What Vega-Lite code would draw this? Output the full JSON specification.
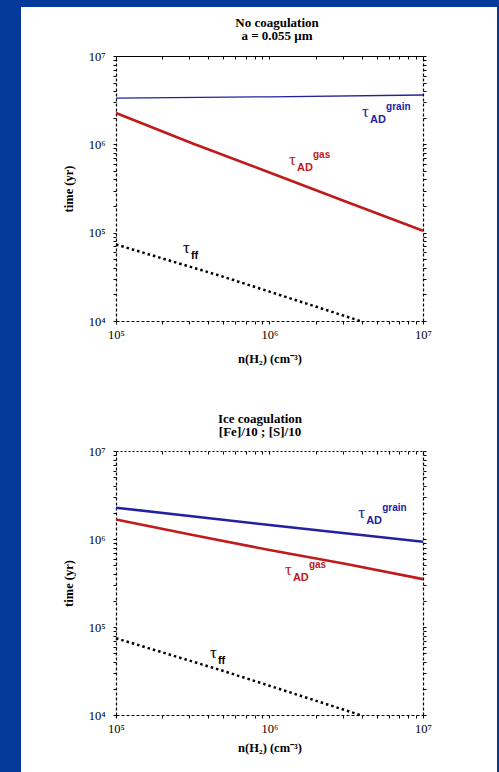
{
  "$schema": "https://vega.github.io/schema/vega-lite/v6.json",
  "background": "#063a9a",
  "padding": {"left": 21, "top": 7, "right": 2, "bottom": 0},
  "spacing": 0,
  "config": {
    "view": {"fill": "white", "stroke": null},
    "font": "Liberation Serif",
    "axis": {"domainColor": "black", "tickColor": "black", "labelColor": "black", "titleColor": "black", "labelFont": "Liberation Serif", "titleFont": "Liberation Serif", "labelFontSize": 12.5, "titleFontSize": 12.5, "titleFontWeight": "bold", "grid": false, "labelOverlap": false, "labelFlush": false, "domainWidth": 1.2, "tickWidth": 1}
  },
  "datasets": {
    "lines": [
      {"panel": "top", "series": "grain", "n": 100000, "t": 3330000},
      {"panel": "top", "series": "grain", "n": 1000000, "t": 3450000},
      {"panel": "top", "series": "grain", "n": 10000000, "t": 3620000},
      {"panel": "top", "series": "gas", "n": 100000, "t": 2260000},
      {"panel": "top", "series": "gas", "n": 316000, "t": 1020000},
      {"panel": "top", "series": "gas", "n": 1000000, "t": 479000},
      {"panel": "top", "series": "gas", "n": 3160000, "t": 224000},
      {"panel": "top", "series": "gas", "n": 10000000, "t": 105000},
      {"panel": "top", "series": "ff", "n": 100000, "t": 73500},
      {"panel": "top", "series": "ff", "n": 477000, "t": 32500},
      {"panel": "top", "series": "ff", "n": 1000000, "t": 21500},
      {"panel": "top", "series": "ff", "n": 3900000, "t": 10000},
      {"panel": "bottom", "series": "grain", "n": 100000, "t": 2270000},
      {"panel": "bottom", "series": "grain", "n": 1000000, "t": 1440000},
      {"panel": "bottom", "series": "grain", "n": 10000000, "t": 930000},
      {"panel": "bottom", "series": "gas", "n": 100000, "t": 1670000},
      {"panel": "bottom", "series": "gas", "n": 316000, "t": 1110000},
      {"panel": "bottom", "series": "gas", "n": 1000000, "t": 750000},
      {"panel": "bottom", "series": "gas", "n": 3160000, "t": 519000},
      {"panel": "bottom", "series": "gas", "n": 10000000, "t": 350000},
      {"panel": "bottom", "series": "ff", "n": 100000, "t": 74500},
      {"panel": "bottom", "series": "ff", "n": 477000, "t": 32500},
      {"panel": "bottom", "series": "ff", "n": 1000000, "t": 21500},
      {"panel": "bottom", "series": "ff", "n": 3900000, "t": 10000}
    ],
    "labels": [
      {"panel": "top", "series": "grain", "n": 4010000, "t": 2350000, "sub": "AD", "sup": "grain"},
      {"panel": "top", "series": "gas", "n": 1340000, "t": 668000, "sub": "AD", "sup": "gas"},
      {"panel": "top", "series": "ff", "n": 273000, "t": 67100, "sub": "ff", "sup": ""},
      {"panel": "bottom", "series": "grain", "n": 3780000, "t": 1960000, "sub": "AD", "sup": "grain"},
      {"panel": "bottom", "series": "gas", "n": 1260000, "t": 445000, "sub": "AD", "sup": "gas"},
      {"panel": "bottom", "series": "ff", "n": 409000, "t": 50200, "sub": "ff", "sup": ""}
    ]
  },
  "vconcat": [
    {
      "width": 476,
      "height": 383,
      "title": {"text": ["No coagulation", "a = 0.055 μm"], "offset": -36, "dx": 18, "fontSize": 13, "font": "Liberation Serif", "fontWeight": "bold", "anchor": "middle", "frame": "group", "lineHeight": 13.5, "color": "black"},
      "resolve": {"axis": {"x": "independent", "y": "independent"}},
      "layer": [
        {
          "data": {"name": "lines"},
          "transform": [{"filter": "datum.panel == 'top' && datum.series == 'grain'"}],
          "mark": {"type": "line", "color": "#2222a0", "strokeWidth": 1.3, "clip": true},
          "encoding": {
            "x": {"field": "n", "type": "quantitative", "scale": {"type": "log", "domain": [100000, 10000000], "range": [95, 402], "nice": false},
              "axis": {"orient": "bottom", "offset": -69, "values": [100000, 200000, 300000, 400000, 500000, 600000, 700000, 800000, 900000, 1000000, 2000000, 3000000, 4000000, 5000000, 6000000, 7000000, 8000000, 9000000, 10000000],
                "labelExpr": "abs(log(datum.value)/LN10 - round(log(datum.value)/LN10)) < 0.001 ? '10' + substring('⁰¹²³⁴⁵⁶⁷⁸⁹', round(log(datum.value)/LN10), round(log(datum.value)/LN10) + 1) : ''",
                "tickSize": 3, "labelPadding": 4, "domainDash": [3, 2], "title": "n(H₂)  (cm⁻³)", "titlePadding": 12}},
            "y": {"field": "t", "type": "quantitative", "scale": {"type": "log", "domain": [10000, 10000000], "range": [314, 49], "nice": false},
              "axis": {"orient": "left", "offset": -95, "values": [10000, 20000, 30000, 40000, 50000, 60000, 70000, 80000, 90000, 100000, 200000, 300000, 400000, 500000, 600000, 700000, 800000, 900000, 1000000, 2000000, 3000000, 4000000, 5000000, 6000000, 7000000, 8000000, 9000000, 10000000],
                "labelExpr": "abs(log(datum.value)/LN10 - round(log(datum.value)/LN10)) < 0.001 ? '10' + substring('⁰¹²³⁴⁵⁶⁷⁸⁹', round(log(datum.value)/LN10), round(log(datum.value)/LN10) + 1) : ''",
                "tickSize": 3, "labelPadding": 8, "domainDash": [3, 2], "title": "time  (yr)", "titlePadding": 13}}
          }
        },
        {
          "data": {"name": "lines"},
          "transform": [{"filter": "datum.panel == 'top' && datum.series == 'gas'"}],
          "mark": {"type": "line", "color": "#c01a1a", "strokeWidth": 2.6, "clip": true},
          "encoding": {
            "x": {"field": "n", "type": "quantitative", "scale": {"type": "log", "domain": [100000, 10000000], "range": [95, 402], "nice": false},
              "axis": {"orient": "top", "offset": -49, "values": [100000, 200000, 300000, 400000, 500000, 600000, 700000, 800000, 900000, 1000000, 2000000, 3000000, 4000000, 5000000, 6000000, 7000000, 8000000, 9000000, 10000000], "labels": false, "tickSize": -3, "title": null}},
            "y": {"field": "t", "type": "quantitative", "scale": {"type": "log", "domain": [10000, 10000000], "range": [314, 49], "nice": false},
              "axis": {"orient": "right", "offset": -74, "values": [10000, 20000, 30000, 40000, 50000, 60000, 70000, 80000, 90000, 100000, 200000, 300000, 400000, 500000, 600000, 700000, 800000, 900000, 1000000, 2000000, 3000000, 4000000, 5000000, 6000000, 7000000, 8000000, 9000000, 10000000], "labels": false, "tickSize": 3, "domainDash": [3, 2], "title": null}}
          }
        },
        {
          "data": {"name": "lines"},
          "transform": [{"filter": "datum.panel == 'top' && datum.series == 'ff'"}],
          "mark": {"type": "line", "color": "black", "strokeWidth": 2.5, "strokeDash": [2.5, 3], "clip": true},
          "encoding": {
            "x": {"field": "n", "type": "quantitative", "scale": {"type": "log", "domain": [100000, 10000000], "range": [95, 402], "nice": false}, "axis": null},
            "y": {"field": "t", "type": "quantitative", "scale": {"type": "log", "domain": [10000, 10000000], "range": [314, 49], "nice": false}, "axis": null}
          }
        },
        {
          "data": {"name": "labels"},
          "transform": [{"filter": "datum.panel == 'top'"}],
          "mark": {"type": "text", "text": "τ", "align": "left", "baseline": "middle", "fontSize": 17, "font": "Liberation Serif"},
          "encoding": {
            "x": {"field": "n", "type": "quantitative", "scale": {"type": "log", "domain": [100000, 10000000], "range": [95, 402], "nice": false}, "axis": null},
            "y": {"field": "t", "type": "quantitative", "scale": {"type": "log", "domain": [10000, 10000000], "range": [314, 49], "nice": false}, "axis": null},
            "color": {"field": "series", "type": "nominal", "scale": {"domain": ["grain", "gas", "ff"], "range": ["#2222a0", "#c01a1a", "black"]}, "legend": null}
          }
        },
        {
          "data": {"name": "labels"},
          "transform": [{"filter": "datum.panel == 'top'"}],
          "mark": {"type": "text", "align": "left", "baseline": "middle", "dx": 8, "dy": 8, "fontSize": 11, "fontWeight": "bold", "font": "Liberation Sans"},
          "encoding": {
            "x": {"field": "n", "type": "quantitative", "scale": {"type": "log", "domain": [100000, 10000000], "range": [95, 402], "nice": false}, "axis": null},
            "y": {"field": "t", "type": "quantitative", "scale": {"type": "log", "domain": [10000, 10000000], "range": [314, 49], "nice": false}, "axis": null},
            "text": {"field": "sub"},
            "color": {"field": "series", "type": "nominal", "scale": {"domain": ["grain", "gas", "ff"], "range": ["#2222a0", "#c01a1a", "black"]}, "legend": null}
          }
        },
        {
          "data": {"name": "labels"},
          "transform": [{"filter": "datum.panel == 'top'"}],
          "mark": {"type": "text", "align": "left", "baseline": "middle", "dx": 24, "dy": -5, "fontSize": 10, "fontWeight": "bold", "font": "Liberation Sans"},
          "encoding": {
            "x": {"field": "n", "type": "quantitative", "scale": {"type": "log", "domain": [100000, 10000000], "range": [95, 402], "nice": false}, "axis": null},
            "y": {"field": "t", "type": "quantitative", "scale": {"type": "log", "domain": [10000, 10000000], "range": [314, 49], "nice": false}, "axis": null},
            "text": {"field": "sup"},
            "color": {"field": "series", "type": "nominal", "scale": {"domain": ["grain", "gas", "ff"], "range": ["#2222a0", "#c01a1a", "black"]}, "legend": null}
          }
        }
      ]
    },
    {
      "width": 476,
      "height": 382,
      "title": {"text": ["Ice coagulation", "[Fe]/10 ; [S]/10"], "offset": -49, "dx": 1, "fontSize": 13, "font": "Liberation Serif", "fontWeight": "bold", "anchor": "middle", "frame": "group", "lineHeight": 13.5, "color": "black"},
      "resolve": {"axis": {"x": "independent", "y": "independent"}},
      "layer": [
        {
          "data": {"name": "lines"},
          "transform": [{"filter": "datum.panel == 'bottom' && datum.series == 'grain'"}],
          "mark": {"type": "line", "color": "#2222a0", "strokeWidth": 2.6, "clip": true},
          "encoding": {
            "x": {"field": "n", "type": "quantitative", "scale": {"type": "log", "domain": [100000, 10000000], "range": [95, 402], "nice": false},
              "axis": {"orient": "bottom", "offset": -57, "values": [100000, 200000, 300000, 400000, 500000, 600000, 700000, 800000, 900000, 1000000, 2000000, 3000000, 4000000, 5000000, 6000000, 7000000, 8000000, 9000000, 10000000],
                "labelExpr": "abs(log(datum.value)/LN10 - round(log(datum.value)/LN10)) < 0.001 ? '10' + substring('⁰¹²³⁴⁵⁶⁷⁸⁹', round(log(datum.value)/LN10), round(log(datum.value)/LN10) + 1) : ''",
                "tickSize": 3, "labelPadding": 4, "domainDash": [3, 2], "title": "n(H₂)  (cm⁻³)", "titlePadding": 7}},
            "y": {"field": "t", "type": "quantitative", "scale": {"type": "log", "domain": [10000, 10000000], "range": [325, 61], "nice": false},
              "axis": {"orient": "left", "offset": -95, "values": [10000, 20000, 30000, 40000, 50000, 60000, 70000, 80000, 90000, 100000, 200000, 300000, 400000, 500000, 600000, 700000, 800000, 900000, 1000000, 2000000, 3000000, 4000000, 5000000, 6000000, 7000000, 8000000, 9000000, 10000000],
                "labelExpr": "abs(log(datum.value)/LN10 - round(log(datum.value)/LN10)) < 0.001 ? '10' + substring('⁰¹²³⁴⁵⁶⁷⁸⁹', round(log(datum.value)/LN10), round(log(datum.value)/LN10) + 1) : ''",
                "tickSize": 3, "labelPadding": 8, "domainDash": [3, 2], "title": "time  (yr)", "titlePadding": 13}}
          }
        },
        {
          "data": {"name": "lines"},
          "transform": [{"filter": "datum.panel == 'bottom' && datum.series == 'gas'"}],
          "mark": {"type": "line", "color": "#c01a1a", "strokeWidth": 2.6, "clip": true},
          "encoding": {
            "x": {"field": "n", "type": "quantitative", "scale": {"type": "log", "domain": [100000, 10000000], "range": [95, 402], "nice": false},
              "axis": {"orient": "top", "offset": -61, "values": [100000, 200000, 300000, 400000, 500000, 600000, 700000, 800000, 900000, 1000000, 2000000, 3000000, 4000000, 5000000, 6000000, 7000000, 8000000, 9000000, 10000000], "labels": false, "tickSize": -3, "domainDash": [2, 2], "title": null}},
            "y": {"field": "t", "type": "quantitative", "scale": {"type": "log", "domain": [10000, 10000000], "range": [325, 61], "nice": false},
              "axis": {"orient": "right", "offset": -74, "values": [10000, 20000, 30000, 40000, 50000, 60000, 70000, 80000, 90000, 100000, 200000, 300000, 400000, 500000, 600000, 700000, 800000, 900000, 1000000, 2000000, 3000000, 4000000, 5000000, 6000000, 7000000, 8000000, 9000000, 10000000], "labels": false, "tickSize": 3, "domainDash": [3, 2], "title": null}}
          }
        },
        {
          "data": {"name": "lines"},
          "transform": [{"filter": "datum.panel == 'bottom' && datum.series == 'ff'"}],
          "mark": {"type": "line", "color": "black", "strokeWidth": 2.5, "strokeDash": [2.5, 3], "clip": true},
          "encoding": {
            "x": {"field": "n", "type": "quantitative", "scale": {"type": "log", "domain": [100000, 10000000], "range": [95, 402], "nice": false}, "axis": null},
            "y": {"field": "t", "type": "quantitative", "scale": {"type": "log", "domain": [10000, 10000000], "range": [325, 61], "nice": false}, "axis": null}
          }
        },
        {
          "data": {"name": "labels"},
          "transform": [{"filter": "datum.panel == 'bottom'"}],
          "mark": {"type": "text", "text": "τ", "align": "left", "baseline": "middle", "fontSize": 17, "font": "Liberation Serif"},
          "encoding": {
            "x": {"field": "n", "type": "quantitative", "scale": {"type": "log", "domain": [100000, 10000000], "range": [95, 402], "nice": false}, "axis": null},
            "y": {"field": "t", "type": "quantitative", "scale": {"type": "log", "domain": [10000, 10000000], "range": [325, 61], "nice": false}, "axis": null},
            "color": {"field": "series", "type": "nominal", "scale": {"domain": ["grain", "gas", "ff"], "range": ["#2222a0", "#c01a1a", "black"]}, "legend": null}
          }
        },
        {
          "data": {"name": "labels"},
          "transform": [{"filter": "datum.panel == 'bottom'"}],
          "mark": {"type": "text", "align": "left", "baseline": "middle", "dx": 8, "dy": 8, "fontSize": 11, "fontWeight": "bold", "font": "Liberation Sans"},
          "encoding": {
            "x": {"field": "n", "type": "quantitative", "scale": {"type": "log", "domain": [100000, 10000000], "range": [95, 402], "nice": false}, "axis": null},
            "y": {"field": "t", "type": "quantitative", "scale": {"type": "log", "domain": [10000, 10000000], "range": [325, 61], "nice": false}, "axis": null},
            "text": {"field": "sub"},
            "color": {"field": "series", "type": "nominal", "scale": {"domain": ["grain", "gas", "ff"], "range": ["#2222a0", "#c01a1a", "black"]}, "legend": null}
          }
        },
        {
          "data": {"name": "labels"},
          "transform": [{"filter": "datum.panel == 'bottom'"}],
          "mark": {"type": "text", "align": "left", "baseline": "middle", "dx": 24, "dy": -5, "fontSize": 10, "fontWeight": "bold", "font": "Liberation Sans"},
          "encoding": {
            "x": {"field": "n", "type": "quantitative", "scale": {"type": "log", "domain": [100000, 10000000], "range": [95, 402], "nice": false}, "axis": null},
            "y": {"field": "t", "type": "quantitative", "scale": {"type": "log", "domain": [10000, 10000000], "range": [325, 61], "nice": false}, "axis": null},
            "text": {"field": "sup"},
            "color": {"field": "series", "type": "nominal", "scale": {"domain": ["grain", "gas", "ff"], "range": ["#2222a0", "#c01a1a", "black"]}, "legend": null}
          }
        }
      ]
    }
  ]
}
